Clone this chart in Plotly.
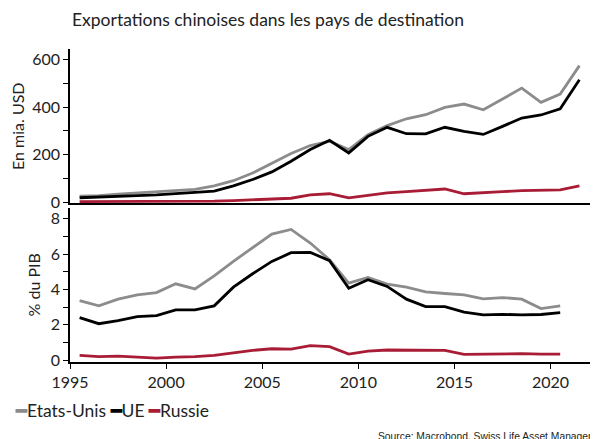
import plotly.graph_objects as go
from plotly.subplots import make_subplots

# years (values plotted at mid-year)
years = list(range(1995, 2022))

# exports in bn USD (1995-2021)
usa_usd = [25, 27, 33, 38, 42, 50, 53, 68, 90, 122, 162, 205,
           238, 256, 221, 284, 322, 351, 368, 399, 413, 389, 434, 480, 420, 455, 575]
eu_usd = [18, 20, 23, 27, 30, 35, 40, 46, 68, 95, 127, 172,
          221, 260, 207, 277, 315, 288, 287, 315, 298, 285, 319, 354, 367, 393, 515]
ru_usd = [1.7, 1.7, 2.0, 1.8, 1.5, 2.2, 2.7, 3.5, 6.0, 9.1, 13.2, 16,
          30, 35, 18, 30, 39, 44, 50, 55, 35, 38, 44, 48, 50, 51, 68]

# exports in % of GDP (1995-2020)
usa_gdp = [3.37, 3.07, 3.45, 3.69, 3.82, 4.32, 4.03, 4.77, 5.59, 6.38, 7.14, 7.40,
           6.63, 5.68, 4.36, 4.68, 4.30, 4.13, 3.86, 3.77, 3.69, 3.47, 3.54, 3.45, 2.92, 3.07]
eu_gdp = [2.40, 2.06, 2.23, 2.46, 2.52, 2.84, 2.84, 3.07, 4.13, 4.89, 5.59, 6.08,
          6.10, 5.63, 4.07, 4.55, 4.17, 3.45, 3.03, 3.03, 2.71, 2.56, 2.59, 2.56, 2.58, 2.69]
ru_gdp = [0.26, 0.19, 0.22, 0.17, 0.11, 0.17, 0.19, 0.26, 0.42, 0.55, 0.64, 0.62,
          0.82, 0.76, 0.34, 0.51, 0.57, 0.57, 0.57, 0.55, 0.32, 0.34, 0.38, 0.36, 0.34, 0.34]

names = ["Etats-Unis", "UE", "Russie"]
colors = ["#8c8c8c", "#000000", "#a81c35"]

font = "Lato"

# page body has an 8px margin, so the figure is a bit smaller than the window
W, H = 590, 431
L, R, T, B = 62, 8, 41, 77
plot_w = W - L - R
plot_h = H - T - B

fig = make_subplots(rows=2, cols=1, shared_xaxes=False, vertical_spacing=0.013,
                    row_heights=[0.5, 0.5])

x_top = [y + 0.5 for y in years]
x_bot = [y + 0.5 for y in years[:len(usa_gdp)]]

for name, col, v in zip(names, colors, [usa_usd, eu_usd, ru_usd]):
    fig.add_trace(go.Scatter(x=x_top, y=v, mode="lines", name=name,
                             line=dict(color=col, width=2.8), showlegend=False), row=1, col=1)
for name, col, v in zip(names, colors, [usa_gdp, eu_gdp, ru_gdp]):
    fig.add_trace(go.Scatter(x=x_bot, y=v, mode="lines", name=name,
                             line=dict(color=col, width=2.8), showlegend=False), row=2, col=1)

# legend drawn as a line of text with coloured dashes
leg = " ".join(
    "<span style='color:%s'><b>━</b></span>%s" % (c, n) for n, c in zip(names, colors))

fig.update_layout(
    width=W, height=H,
    margin=dict(l=L, r=R, t=T, b=B),
    paper_bgcolor="white", plot_bgcolor="white",
    font=dict(family=font, size=16, color="#222"),
    title=dict(text="Exportations chinoises dans les pays de destination",
               x=260 / W, xanchor="center", y=1 - 12 / H, yanchor="middle",
               font=dict(family=font, size=17.5, color="#222")),
    annotations=[
        dict(text=leg, x=(5 - L) / plot_w, y=(H - B - 402) / plot_h,
             xref="paper", yref="paper",
             xanchor="left", yanchor="middle", showarrow=False,
             font=dict(family=font, size=17.5, color="#222")),
        dict(text="Source: Macrobond, Swiss Life Asset Managers",
             x=(368 - L) / plot_w, y=(H - B - 428) / plot_h,
             xref="paper", yref="paper",
             xanchor="left", yanchor="middle", showarrow=False,
             font=dict(family="Liberation Sans", size=10.3, color="#222")),
    ],
)

fig.update_layout(
    xaxis=dict(range=[1995, 2022.05], showticklabels=False, ticks="",
               showline=True, linecolor="black", linewidth=1.5, showgrid=False,
               zeroline=False),
    yaxis=dict(range=[-6, 645], tickvals=[0, 200, 400, 600], ticks="outside",
               ticklen=5, tickcolor="black", showline=True, linecolor="black",
               linewidth=1.5, showgrid=False, zeroline=False,
               minor=dict(ticks="outside", tickvals=[100, 300, 500], ticklen=5,
                          tickcolor="black"),
               title=dict(text="En mia. USD", standoff=6, font=dict(size=16))),
    xaxis2=dict(range=[1995, 2022.05], tickvals=[1995, 2000, 2005, 2010, 2015, 2020],
                ticks="outside", ticklen=5, tickcolor="black", showline=True,
                linecolor="black", linewidth=1.5, showgrid=False, zeroline=False),
    yaxis2=dict(range=[-0.11, 8.64], tickvals=[0, 2, 4, 6, 8], ticks="outside",
                ticklen=5, tickcolor="black", showline=True, linecolor="black",
                linewidth=1.5, showgrid=False, zeroline=False,
                minor=dict(ticks="outside", tickvals=[1, 3, 5, 7], ticklen=5,
                           tickcolor="black"),
                title=dict(text="% du PIB", standoff=6, font=dict(size=16))),
)

fig.write_html("out.html")
